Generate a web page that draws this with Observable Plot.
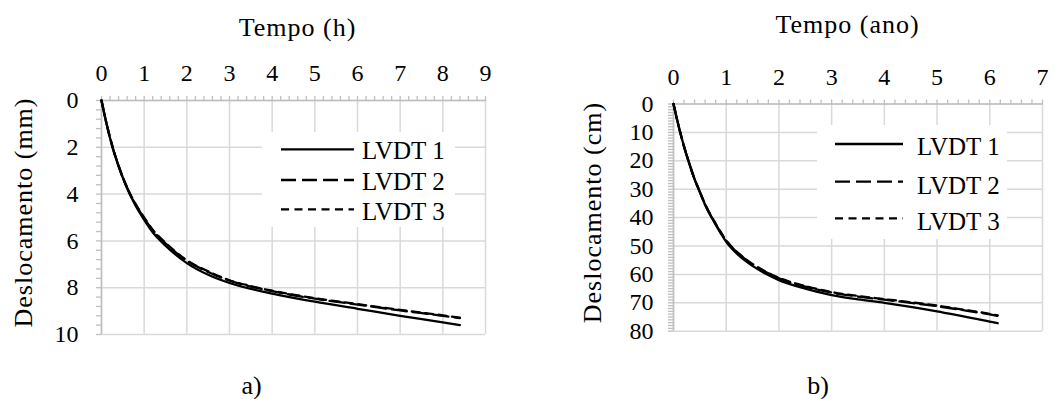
<!DOCTYPE html>
<html>
<head>
<meta charset="utf-8">
<script src="https://cdn.jsdelivr.net/npm/d3@7"></script>
<script src="https://cdn.jsdelivr.net/npm/@observablehq/plot@0.6"></script>
<style>
  html, body { margin: 0; padding: 0; background: #fff; }
  #wrap { position: relative; width: 1061px; height: 399px; overflow: hidden; background: #fff;
          font-family: "Liberation Serif", "Times New Roman", serif; }
  .panel { position: absolute; top: 0; }
  .legend { position: absolute; background: #fff; }
  .legend .lab { position: absolute; font-family: "Liberation Serif", "Times New Roman", serif; font-size: 25px; line-height: 1; color: #000; white-space: nowrap; }
  .legend svg { position: absolute; left: 0; top: 0; overflow: visible; }
</style>
</head>
<body>
<div id="wrap"></div>
<script>
// ---------------- data ----------------
const seriesNames = ["LVDT 1", "LVDT 2", "LVDT 3"];

// Panel a) — Tempo (h) vs Deslocamento (mm)
const timeA  = [0, 0.1, 0.2, 0.3, 0.4, 0.5, 0.6, 0.8, 1.0, 1.2, 1.5, 2.0, 2.5, 3.0, 3.5, 4.0, 5.0, 6.0, 7.0, 8.0, 8.4];
const lvdt1A = [0, 0.85, 1.60, 2.25, 2.80, 3.30, 3.75, 4.50, 5.10, 5.63, 6.20, 6.95, 7.45, 7.80, 8.05, 8.25, 8.60, 8.90, 9.20, 9.48, 9.60];
const lvdt2A = [0, 0.85, 1.60, 2.25, 2.80, 3.30, 3.73, 4.45, 5.03, 5.55, 6.10, 6.85, 7.33, 7.70, 7.95, 8.15, 8.47, 8.72, 8.97, 9.20, 9.30];
const lvdt3A = [0, 0.84, 1.58, 2.23, 2.78, 3.28, 3.71, 4.43, 5.00, 5.52, 6.08, 6.83, 7.30, 7.68, 7.93, 8.13, 8.45, 8.70, 8.95, 9.18, 9.28];
const xTicksA = [0, 1, 2, 3, 4, 5, 6, 7, 8, 9];
const yTicksA = [0, 2, 4, 6, 8, 10];

// Panel b) — Tempo (ano) vs Deslocamento (cm)
const timeB  = [0, 0.1, 0.2, 0.3, 0.4, 0.5, 0.6, 0.8, 1.0, 1.25, 1.5, 1.75, 2.0, 2.5, 3.0, 3.5, 4.0, 4.5, 5.0, 5.5, 6.0, 6.15];
const lvdt1B = [0, 8.0, 15.0, 21.0, 26.5, 31.0, 35.5, 42.5, 48.5, 53.5, 57.0, 59.8, 62.0, 65.0, 67.3, 68.8, 70.0, 71.4, 73.0, 74.8, 76.6, 77.2];
const lvdt2B = [0, 8.0, 15.0, 21.0, 26.5, 31.0, 35.5, 42.3, 48.2, 53.0, 56.5, 59.2, 61.4, 64.3, 66.4, 67.8, 68.9, 70.0, 71.2, 72.6, 74.1, 74.6];
const lvdt3B = [0, 7.9, 14.9, 20.9, 26.4, 30.9, 35.3, 42.1, 48.0, 52.8, 56.3, 59.0, 61.2, 64.1, 66.2, 67.6, 68.7, 69.8, 71.0, 72.4, 73.9, 74.4];
const xTicksB = [0, 1, 2, 3, 4, 5, 6, 7];
const yTicksB = [0, 10, 20, 30, 40, 50, 60, 70, 80];

// ---------------- style ----------------
const dashes = [null, "15,6", "8,5.5"];
const FONT = "'Liberation Serif', 'Times New Roman', serif";
const GRID = "#d9d9d9", AXIS = "#bfbfbf";

function rows(times, vals) { return times.map((t, i) => ({t, d: vals[i]})); }
function range(a, b, s) { const n = Math.round((b - a) / s); return d3.range(n + 1).map(i => +(a + i * s).toFixed(4)); }
function fmtFor(labels) { return d => labels.some(l => Math.abs(l - d) < 1e-6) ? String(Math.round(d)) : ""; }

function panel(cfg) {
  const series = cfg.series.map(v => rows(cfg.times, v));
  const svg = Plot.plot({
    width: cfg.width, height: 399,
    marginLeft: cfg.ml, marginRight: cfg.mr, marginTop: cfg.mt, marginBottom: cfg.mb,
    x: {domain: cfg.xDomain},
    y: {domain: cfg.yDomain, reverse: true},
    style: {fontFamily: FONT, fontSize: "24px", color: "#000", background: "transparent", overflow: "visible"},
    marks: [
      Plot.gridX(cfg.xTicks, {stroke: GRID, strokeOpacity: 1, strokeWidth: 1.5}),
      Plot.gridY(cfg.yTicks, {stroke: GRID, strokeOpacity: 1, strokeWidth: 1.5}),
      Plot.ruleY([cfg.yDomain[0]], {stroke: AXIS, strokeWidth: 1.5}),
      Plot.ruleX([cfg.xDomain[0]], {stroke: AXIS, strokeWidth: 1.5}),
      Plot.axisX(cfg.xMinor, {anchor: "top", tickSize: 5, tickPadding: cfg.xPad, tickFormat: fmtFor(cfg.xTicks),
                              stroke: AXIS, strokeWidth: 1.3, fill: "#000", label: null, fontSize: 24, fontFamily: FONT}),
      Plot.axisY(cfg.yMinor, {anchor: "left", tickSize: 5, tickPadding: cfg.yPad, tickFormat: fmtFor(cfg.yTicks),
                              stroke: AXIS, strokeWidth: 1.3, fill: "#000", label: null, fontSize: 24, fontFamily: FONT}),
      ...series.map((s, i) => Plot.line(s, {x: "t", y: "d", curve: "monotone-x", stroke: "#000",
                                             strokeWidth: 2.3, strokeDasharray: dashes[i] || undefined})),
      Plot.text([cfg.xTitle], {text: d => d, frameAnchor: "top", textAnchor: "middle", lineAnchor: "middle",
                               dx: cfg.xTitleDx, dy: cfg.xTitleDy, fontSize: 26, fontFamily: FONT, fill: "#000"}),
      Plot.text([cfg.yTitle], {text: d => d, frameAnchor: "left", textAnchor: "middle", lineAnchor: "middle",
                               rotate: -90, dx: cfg.yTitleDx, dy: -5, fontSize: 26, fontFamily: FONT, fill: "#000"}),
      Plot.text([cfg.caption], {text: d => d, frameAnchor: "bottom", textAnchor: "middle", lineAnchor: "middle",
                                dx: cfg.capDx, dy: cfg.capDy, fontSize: 26, fontFamily: FONT, fill: "#000"})
    ]
  });
  d3.select(svg).selectAll("text").filter(function () {
    return this.textContent === cfg.xTitle || this.textContent === cfg.yTitle;
  }).style("letter-spacing", "1px");
  const holder = document.createElement("div");
  holder.className = "panel";
  holder.style.left = cfg.left + "px";
  holder.appendChild(svg);
  return holder;
}

function legend(box) {
  const div = document.createElement("div");
  div.className = "legend";
  Object.assign(div.style, {left: box.left + "px", top: box.top + "px", width: box.w + "px", height: box.h + "px"});
  const ns = "http://www.w3.org/2000/svg";
  const s = document.createElementNS(ns, "svg");
  s.setAttribute("width", box.w); s.setAttribute("height", box.h);
  seriesNames.forEach((name, i) => {
    const ln = document.createElementNS(ns, "line");
    ln.setAttribute("x1", box.lx0); ln.setAttribute("x2", box.lx1);
    ln.setAttribute("y1", box.ly[i]); ln.setAttribute("y2", box.ly[i]);
    ln.setAttribute("stroke", "#000"); ln.setAttribute("stroke-width", 2.3);
    if (dashes[i]) ln.setAttribute("stroke-dasharray", dashes[i]);
    s.appendChild(ln);
    const lab = document.createElement("div");
    lab.className = "lab";
    lab.textContent = name;
    lab.style.left = box.tx + "px";
    lab.style.top = (box.ty[i] - 12.5) + "px";
    div.appendChild(lab);
  });
  div.insertBefore(s, div.firstChild);
  return div;
}

const wrap = document.getElementById("wrap");

wrap.appendChild(panel({
  left: 0, width: 530, ml: 101, mr: 45, mt: 100, mb: 65,
  xDomain: [0, 9], yDomain: [0, 10],
  xTicks: xTicksA, yTicks: yTicksA,
  xMinor: range(0, 9, 0.2), yMinor: range(0, 10, 0.4),
  xPad: 14.5, yPad: 18,
  times: timeA, series: [lvdt1A, lvdt2A, lvdt3A],
  xTitle: "Tempo (h)", xTitleDx: 4, xTitleDy: -73,
  yTitle: "Deslocamento (mm)", yTitleDx: -78,
  caption: "a)", capDx: -42, capDy: 51
}));

wrap.appendChild(panel({
  left: 530, width: 531, ml: 143, mr: 19, mt: 103.5, mb: 68.3,
  xDomain: [0, 7], yDomain: [0, 80],
  xTicks: xTicksB, yTicks: yTicksB,
  xMinor: range(0, 7, 0.2), yMinor: range(0, 80, 1),
  xPad: 14, yPad: 15,
  times: timeB, series: [lvdt1B, lvdt2B, lvdt3B],
  xTitle: "Tempo (ano)", xTitleDx: -10.5, xTitleDy: -79.5,
  yTitle: "Deslocamento (cm)", yTitleDx: -81,
  caption: "b)", capDx: -40, capDy: 54
}));

wrap.appendChild(legend({left: 262, top: 132, w: 193, h: 95, lx0: 19, lx1: 92, ly: [17.3, 48, 77.3], tx: 100, ty: [18.7, 49.7, 79.7]}));
wrap.appendChild(legend({left: 817, top: 125, w: 190, h: 114, lx0: 18, lx1: 86, ly: [19, 56.7, 93.3], tx: 100, ty: [21.7, 60, 96.7]}));
</script>
</body>
</html>
